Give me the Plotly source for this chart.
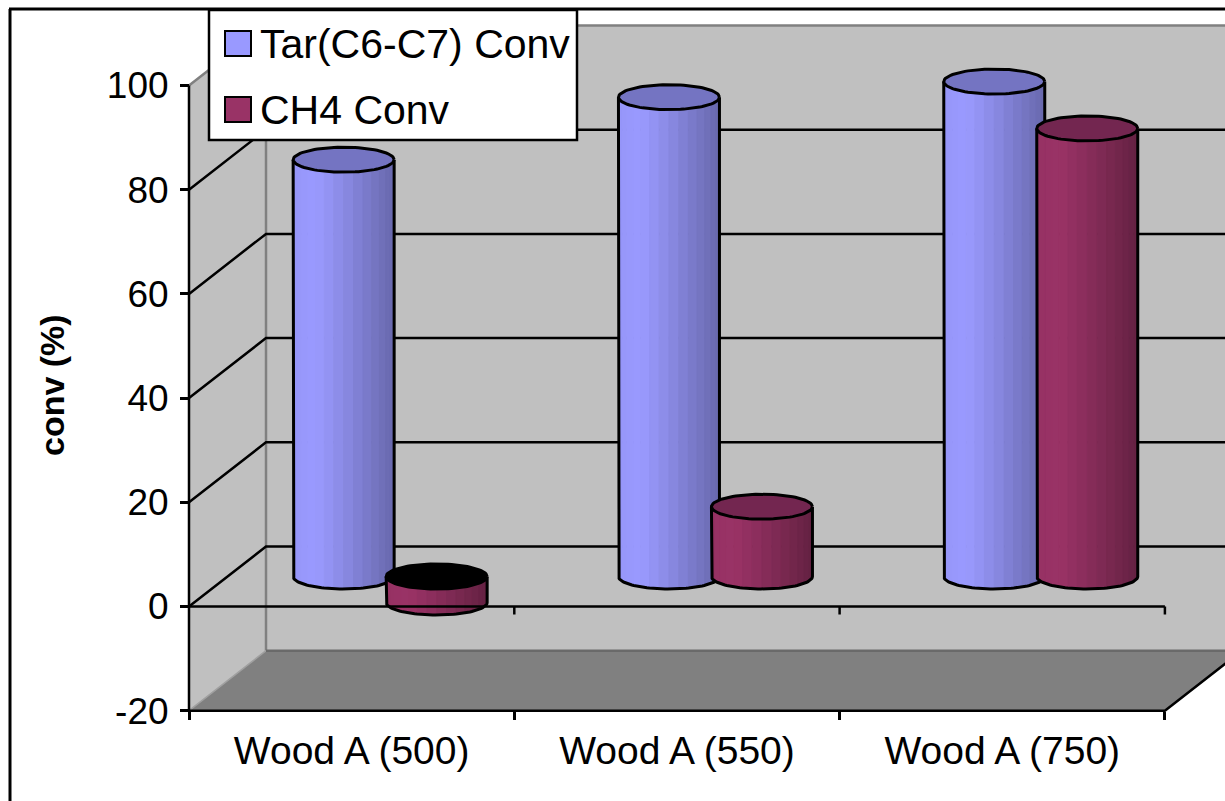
import numpy as np
import plotly.graph_objects as go

# ---- data -------------------------------------------------------------
categories = ["Wood A (500)", "Wood A (550)", "Wood A (750)"]
series_names = ["Tar(C6-C7) Conv", "CH4 Conv"]
tar_conv = [80.0, 92.0, 95.0]
ch4_conv = [-5.0, 13.4, 86.0]
y_tick_values = [-20, 0, 20, 40, 60, 80, 100]
y_tick_text = ["-20", "0", "20", "40", "60", "80", "100"]

# ---- geometry of the pseudo-3D box (pixels of the 1225x801 canvas) ---
W, H = 1225, 801
X0_PX, CAT_PX = 189.0, 325.3      # x=0 of the front plane, width of one category
Y0_PX, UNIT_PX = 606.5, 5.21      # y=0 of the front plane, pixels per percent
DEPTH_X_PX, DEPTH_Y_PX = 77.0, 60.0

DX = DEPTH_X_PX / CAT_PX          # depth shift in axis units
DY = DEPTH_Y_PX / UNIT_PX
Y_MIN, Y_MAX = y_tick_values[0], y_tick_values[-1]
N_CAT = len(categories)

X_RANGE = [(0 - X0_PX) / CAT_PX, (W - X0_PX) / CAT_PX]
Y_RANGE = [(Y0_PX - H) / UNIT_PX, Y0_PX / UNIT_PX]

HALF_W = 50.5 / CAT_PX            # cylinder radius along x
HALF_H = 12.5 / UNIT_PX           # half height of the elliptical caps
SERIES_SHIFT = [-46.5 / CAT_PX, 46.5 / CAT_PX]

FONT = "Liberation Sans, Arial, sans-serif"
WALL = "#C0C0C0"
FLOOR = "#808080"
EDGE = "#808080"

series_style = [
    dict(light=(154, 154, 255), dark=(104, 104, 172), top="#7474C2", legend="#9999FF"),
    dict(light=(154, 51, 102), dark=(100, 33, 66), top="#732650", legend="#993366"),
]


def px_to_paper(px, py):
    return px / W, 1 - py / H


fig = go.Figure()


def poly(xs, ys, fill=None, line_color=None, line_width=0):
    fig.add_trace(go.Scatter(
        x=list(xs), y=list(ys), mode="lines",
        fill="toself" if fill else None, fillcolor=fill,
        line=dict(color=line_color or "rgba(0,0,0,0)", width=line_width),
        hoverinfo="skip", showlegend=False))


# ---- walls and floor ---------------------------------------------------
x_far = X_RANGE[1] + 0.1
poly([0, DX, DX, 0, 0], [Y_MIN, Y_MIN + DY, Y_MAX + DY, Y_MAX, Y_MIN], fill=WALL)
poly([DX, x_far, x_far, DX, DX],
     [Y_MIN + DY, Y_MIN + DY, Y_MAX + DY, Y_MAX + DY, Y_MIN + DY], fill=WALL)
poly([0, N_CAT, N_CAT + DX, DX, 0],
     [Y_MIN, Y_MIN, Y_MIN + DY, Y_MIN + DY, Y_MIN], fill=FLOOR)

# wall edges
poly([0, DX, x_far], [Y_MAX, Y_MAX + DY, Y_MAX + DY], line_color=EDGE, line_width=2.5)
poly([DX, DX], [Y_MIN + DY, Y_MAX + DY], line_color=EDGE, line_width=2.5)
poly([0, DX], [Y_MIN, Y_MIN + DY], line_color="#A0A0A0", line_width=1.5)
poly([DX, x_far], [Y_MIN + DY, Y_MIN + DY], line_color="#6A6A6A", line_width=2.5)

# gridlines: diagonal on the side wall, horizontal on the back wall
gx, gy = [], []
for v in y_tick_values[1:-1]:
    gx += [0, DX, x_far, None]
    gy += [v, v + DY, v + DY, None]
poly(gx, gy, line_color="black", line_width=2.5)


# ---- cylinders ---------------------------------------------------------
def mix(c0, c1, t):
    return "rgb(%d,%d,%d)" % tuple(round(a + (b - a) * t) for a, b in zip(c0, c1))


def shade(style, u):
    # u: 0 at the left edge, 1 at the right edge
    if u < 0.22:
        t = 0.08 * (0.22 - u) / 0.22
    else:
        t = ((u - 0.22) / 0.78) ** 1.1
    return mix(style["light"], style["dark"], t)


def cylinder(ci, si, value):
    style = series_style[si]
    cx = ci + 0.5 + SERIES_SHIFT[si] + DX / 2
    base = DY / 2
    y_hi = max(value, 0.0) + base
    y_lo = min(value, 0.0) + base
    n = 16
    angles = np.linspace(np.pi, 0, n + 1)
    for j in range(n):
        th = np.linspace(angles[j], angles[j + 1], 5)
        xs = cx + HALF_W * np.cos(th)
        ys = y_lo - HALF_H * np.sin(th)
        u = 0.5 + 0.5 * np.cos((angles[j] + angles[j + 1]) / 2)
        col = shade(style, u)
        px = [xs[0]] + list(xs) + [xs[-1], xs[0]]
        py = [y_hi] + list(ys) + [y_hi, y_hi]
        poly(px, py, fill=col, line_color=col, line_width=1)
    # outline of the body
    th = np.linspace(np.pi, 0, 60)
    ox = [cx - HALF_W] + list(cx + HALF_W * np.cos(th)) + [cx + HALF_W]
    oy = [y_hi] + list(y_lo - HALF_H * np.sin(th)) + [y_hi]
    poly(ox, oy, line_color="black", line_width=3)
    # cap
    th = np.linspace(0, 2 * np.pi, 90)
    cap_fill = style["top"] if value >= 0 else "black"
    poly(cx + HALF_W * np.cos(th), y_hi + HALF_H * np.sin(th),
         fill=cap_fill, line_color="black", line_width=3)


for ci in range(N_CAT):
    for si, vals in enumerate([tar_conv, ch4_conv]):
        cylinder(ci, si, vals[ci])

# ---- front lines: value axis, zero line, category axis ---------------
tick_down = 8 / UNIT_PX
zx, zy = [0, N_CAT], [0, 0]
for b in range(1, N_CAT + 1):
    zx += [None, b, b]
    zy += [None, 0, -tick_down]
poly(zx, zy, line_color="black", line_width=2.5)
poly([0, 0], [Y_MIN, Y_MAX], line_color="black", line_width=2.5)
poly([0, N_CAT, N_CAT + DX], [Y_MIN, Y_MIN, Y_MIN + DY], line_color="black", line_width=2.5)

# ---- legend box --------------------------------------------------------
shapes = []
annotations = []


def rect(x0, y0, x1, y1, fill, width=2):
    a0, b0 = px_to_paper(x0, y0)
    a1, b1 = px_to_paper(x1, y1)
    shapes.append(dict(type="rect", xref="paper", yref="paper",
                       x0=a0, y0=b0, x1=a1, y1=b1, fillcolor=fill,
                       line=dict(color="black", width=width), layer="above"))


def line(x0, y0, x1, y1, width=3):
    a0, b0 = px_to_paper(x0, y0)
    a1, b1 = px_to_paper(x1, y1)
    shapes.append(dict(type="line", xref="paper", yref="paper",
                       x0=a0, y0=b0, x1=a1, y1=b1,
                       line=dict(color="black", width=width), layer="above"))


# chart border
line(9, 9, W + 5, 9)
line(10, 9, 10, H + 5)

rect(209, 10, 577, 140, "white", 2.5)
for k, name in enumerate(series_names):
    top = 31 + 66 * k
    rect(225, top, 251, top + 25, series_style[k]["legend"], 2)
    ax, ay = px_to_paper(258, top + 13)
    annotations.append(dict(text=name, xref="paper", yref="paper", x=ax, y=ay,
                            xanchor="left", yanchor="middle", showarrow=False,
                            font=dict(family=FONT, size=41, color="black")))

# value axis title
tx, ty = px_to_paper(52, 385)
annotations.append(dict(text="<b>conv (%)</b>", xref="paper", yref="paper", x=tx, y=ty,
                        textangle=-90, showarrow=False, xanchor="center", yanchor="middle",
                        font=dict(family=FONT, size=34, color="black")))

fig.update_layout(
    width=W, height=H, autosize=False,
    margin=dict(l=0, r=0, t=0, b=0, pad=0),
    paper_bgcolor="white", plot_bgcolor="white",
    showlegend=False,
    shapes=shapes, annotations=annotations,
    xaxis=dict(
        range=X_RANGE, anchor="free", position=1 - (Y0_PX - Y_MIN * UNIT_PX) / H,
        tickmode="array", tickvals=[i + 0.5 for i in range(N_CAT)], ticktext=categories,
        ticks="", showgrid=False, zeroline=False, showline=False,
        tickfont=dict(family=FONT, size=39, color="black"), ticklabelstandoff=13,
        minor=dict(tickmode="array", tickvals=list(range(N_CAT + 1)), ticks="outside",
                   ticklen=8, tickwidth=2.5, tickcolor="black", showgrid=False),
        fixedrange=True,
    ),
    yaxis=dict(
        range=Y_RANGE, anchor="free", position=X0_PX / W,
        tickmode="array", tickvals=y_tick_values, ticktext=y_tick_text, ticks="outside",
        ticklen=9, tickwidth=2.5, tickcolor="black",
        showgrid=False, zeroline=False, showline=False,
        tickfont=dict(family=FONT, size=37, color="black"), ticklabelstandoff=4,
        fixedrange=True,
    ),
)

fig.write_html("out.html")
